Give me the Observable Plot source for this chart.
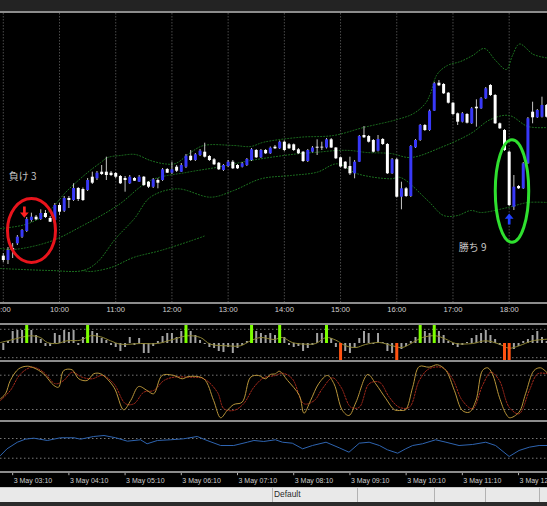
<!DOCTYPE html>
<html><head><meta charset="utf-8">
<script src="https://cdn.jsdelivr.net/npm/d3@7"></script>
<script src="https://cdn.jsdelivr.net/npm/@observablehq/plot@0.6"></script>
<style>
html,body{margin:0;padding:0;background:#000;}
#root{position:relative;width:547px;height:506px;background:#000;overflow:hidden;font-family:"Liberation Sans",sans-serif;}
</style></head><body><div id="root"></div>
<script>
// ---------- candles (5-minute bars, index 0 = 9:00) ----------
const open = [44.3,40,52,56.7,63.3,69,80,83.3,81,87, 82,80,95,89.3,102,100,112,111,110,123.3, 121.7,128.3,128.3,127.3,127,124,122,116.7,122,118.3, 123.3,118.3,113.3,120,120,131,127.3,133.3,128.3,133.3, 144.3,140,145,148.3,144,140.7,137.3,130,134,138.3, 135,133.3,135,140,150,142.7,150,146.7,153.3,151.7, 158.3,155.7,155.7,150.7,148.3,139,148.3,153.3,153.3,152.5, 160.7,152.5,142.7,138.3,134,126.7,138.3,165,164,160, 149.3,161,156,126.7,140.7,103.3,111.7,104,152.7,160, 175,170,189.3,217.3,216,207.3,197.3,186.7,178.3,186, 176.7,193.3,191.7,201.7,215,205,176.7,170,148.3,93.3, 114,111.7,136.7,188.3,182.7,183.3,195];
const high = [47,53,57,65,71,83,87.3,85,90.7,90, 84,97,97,104,104,116.7,113,112.5,122,128.3, 129,135,143.3,129,128,125,124,125,123,125, 124,119,122,121.7,132,132,138.3,135,137,146, 150,147,151,157.3,145,142,138,136,140,140, 136,138,142,152,151,151,151,153.5,155,159.5, 159.5,157,156.5,152,149,151,154,160.7,158.3,162, 162,153,143.5,139,143.3,140,165,174,165,161, 165,162,157,142,142,118.3,113,155,161,176, 176,190.5,218,220,217,208,198,187.5,188,187, 193,200.7,203,213,216,206,177.5,171,149.5,125, 115,138,183,198.3,191,203.3,196];
const low = [38,36,42,55,62,68,78.3,80,80,82, 78,79,85,88,92,99,99,99,109,116, 120,125,120,124,122,116,108.3,116,119,118, 114,112,112,111.7,119,127,126,128,128,132, 139,139,144,142.5,139,135,130,129,133,131, 131,132.5,134,139,142,142,146,146,151,151, 149,151,149,146,138,138,147.5,145,150,151.5, 152,141,132.5,131,125,121.7,138,162,157.5,147.5, 148.5,155,126,126,102.5,90.7,103,103,152,159, 169,169,189,214,206,196.5,185,175,177.5,176.5, 176,173.3,191,201,204,176,171,149,94,90, 111,111,136,176.7,182,182.5,182.5];
const close = [40,50,50,63.3,70,81,83.3,80.7,87,83, 78.3,95,88.3,102,100,112,101,100,120,117.3, 127.3,126,125,125,123.3,116.7,120,123.3,119.3,123.3, 115,113.3,120.7,117.3,130.7,127.3,130.7,129.3,135,144.3, 140,145.7,149.3,143.3,140,135.7,130.7,135,138.3,131.7, 131.7,136.7,141,150.7,142.7,150,146.7,152.3,151.7,158.3, 150,151.7,150,146.7,139,150,152.5,152.3,152.5,160.7, 152.5,141.7,133.5,131.7,126.7,138.3,164,162.7,158.3,148.3, 161,156,126.7,140.7,103.3,111.7,104,154,160,175, 170,189.3,216.7,214.7,206.7,197.3,186,178.3,186.7,177.3, 191.7,191.7,201.7,211.7,205,176.7,171.7,150,95,113.3, 111.7,136.7,181.7,182.7,190,195,183.3];

// ---------- Bollinger bands (read at sample bars) ----------
const upperIdx = [-0.6,4.7,9,13.7,18,20.8,22.3,25,28.2,31.4,34.7,36.8,40,42.8,49.2,52.8,55.6,63.5,70.5,76.9,84.1,87.6,90.1,91.2,92.6,94.8,97.6,100.2,102.7,105.1,107.4,108.7,110.2,113.2,116.2];
const upperVal = [72,76,86,110,128,138,143,145,146,140,136.5,137,148,155,155,154,158.3,163.3,165,173,181,187,197,207,226,235,239,245,252,240,231,245,256.5,246,242.5];
const middleIdx = [-0.6,2.2,10,17,24.4,31.4,39.4,45.8,52.8,59.9,63.5,67.1,71.2,74.1,77.6,82.7,87,93.4,99.8,104,108,112,116.2];
const middleVal = [52,51,59,75,95,120,128.3,133.3,140,145,147,148.3,150,150,148,147,143,153,167,181,185,174,173];
const lowerIdx = [-0.6,10,17,20,24,28,31.4,37.1,44.3,49.2,55,61.4,67,71.3,75.6,82.7,84.8,90.6,94,97,99.8,102,107.7,112,116.2];
const lowerVal = [32,30,30,38,62,82,103.3,111.7,103.3,110,121.7,125,128.3,136.7,126.7,121.7,123,100,85,85,90,88,93,98,98];
const outerIdx = [17,18.6,23,27.8,33.6,42.1,43.2];
const outerVal = [30,29,33,43,50,63,65];

// ---------- signal annotations ----------
const ringIdx = [6.02, 108.6], ringVal = [70, 109.5], ringRy = [32, 51.3], ringRatio = [0.75, 0.326], ringColor = ["#e8141c", "#2fe02f"];
const arrowIdx = [4.5, 108], arrowVal = [88.3, 81.5], arrowDir = [1, -1], arrowColor = ["#ff2020", "#2040ff"];
const noteIdx = [1.17, 97.25], noteVal = [123.3, 53], noteText = ["負け 3", "勝ち 9"];

// ---------- histogram sub-window ----------
const histVal = [-7,2,12,13,13,13,13,8,4,-3, -3,10,8,13,11,13,-2,6,12,12, 10,5,3,-2,-4,-8,-4,6,-2,5, -10,-10,-3,2,7,10,10,6,12,13, 12,8,3,-1,-4,-5,-8,-9,-4,-10, -5,-2,2,12,12,10,8,10,8,12, 6,-2,-4,-3,-8,-5,-2,10,10,12, 5,-4,-10,-8,-10,-5,5,12,10,-1, 10,1,-8,-10,-12,-6,-3,2,6,12, 12,10,13,12,8,2,-2,-4,-2,1, 5,8,10,13,8,4,-2,-8,-10,-6, -3,2,4,8,12,6,2];
const greenIdx = [5,18,39,53,59,69,89,92];
const orangeIdx = [72,84,107,108];
const sigIdx = [-0.6,1.5,3.7,5.8,7.9,9.4,11.5,13.6,16.5,18.6,20.8,22.9,25,29.3,32.9,36.4,39.3,42.1,44.2,47.8,50.6,52.8,54.9,57.8,59.6,61.7,64.6,66.7,68.9,71,73.1,75.3,77.3,80.3,83.1,85.2,87.4,89.5,92.3,94.5,96.6,100.2,103,105.9,108,110.1,113,116.2];
const sigVal = [1,3.3,6,7.7,6,1,0,2.7,3.3,7.7,6.7,2.7,-0.7,0,0,4.3,7.7,6,-0.7,-2.3,-2.3,2.7,6,4,6,1,-0.7,0,6,3.3,-2.3,-4,-1,1,-2.3,-4,1,6,7.7,4.3,0,0,2.7,-0.7,-4.7,-2.3,2.7,4.3];
const histLevels = [14.2, -14.2];

// ---------- stochastic sub-window ----------
const kIdx = [-0.6,0.47,1.5,3.3,5.1,6.5,8.6,10.8,11.8,12.9,14.7,16.1,17.9,19.3,20.8,23.6,25.7,27.2,28.9,30.7,32.1,33.9,36.4,38.2,39.6,42.8,44.9,46.4,47.8,49.2,51,52.8,54.5,56,57,58.1,58.9,60.7,63.2,64.2,65.6,67.4,69.2,70.6,72.4,73.8,75.3,77.8,79.5,81.7,83.5,84.9,85.9,87.4,88.8,90.9,92.7,94.5,96.3,98,99.5,100.9,102.3,103.4,104.4,105.9,107.3,108.1,110.1,111.5,113.3,114.7,116.2];
const kVal = [38.7,47.5,70.7,91.2,95.7,92.9,82.4,62,59,88.2,89.4,73.7,70.7,82.4,82.4,59,19.5,35.7,60.2,53.2,47.5,79.5,79.5,73.7,77.7,73.7,35.7,5.5,18.3,28.7,32.8,76.5,79.5,73.7,81.2,82.4,87,70.7,44.5,13.5,35.7,66,79.5,65,18.3,9.5,32.8,81.2,65,38.7,19.5,18.3,19.5,59,95.2,94,98.2,88.2,53.2,18.3,15.3,35.7,88.2,92.9,82.4,41.5,12.5,5.5,15.3,47.5,88.2,92.9,83.5];
const dIdx = [-0.6,1.5,3.7,6.2,8.6,11.1,12.9,14.7,16.8,19,21.1,23.6,26.1,27.9,30,32.1,34.3,36.4,39.3,42.8,45.7,47.1,49.2,51.3,53.5,55.6,58.1,59.6,61.7,64.2,66.4,68.1,70.3,72.1,74.2,76,78.1,80.3,82.4,84.5,86.7,88.8,90.9,93.8,95.9,98,100.2,102.3,104.1,105.9,108,110.1,112.3,114.1,116.2];
const dVal = [35.7,53.2,82.4,94,85.2,65,70.7,85.2,76.5,73.7,79.5,65,30,30,50.3,53.2,70.7,76.5,76.5,73.7,50.3,21.2,18.3,30,59,75.4,79.5,83.5,73.7,30,35.7,56.2,75.4,59,24,24,65,67.7,41.5,24,24,70.7,91.2,92.9,73.7,35.7,21.2,62,85.2,70.7,24,12.5,53.2,82.4,82.4];
const stochLevels = [80, 20];

// ---------- blue oscillator sub-window ----------
const blueIdx = [-0.6,0.8,3,4.7,6.5,9.4,12.2,15.1,16.5,19.3,21.5,24,26.5,29.3,30.7,32.9,35.7,38.5,41.4,43.5,46.4,49.2,52.1,53.5,55.6,58.1,59.6,61.7,63.9,66,68.9,71.7,73.8,76,78.1,80.3,82,84.2,85.9,87.4,89.5,92.3,94.5,97.3,100.2,103,105.1,108,110.1,112.3,114.4,116.2];
const blueVal = [35.5,49.1,62.5,68.6,70.7,66,71.5,71.5,68.6,74.1,76.1,71.5,64.6,67.4,59.3,66,67.4,69.4,74.1,66,55.8,55.8,62.5,66,64,67.4,62.5,60.5,49.1,55.8,62.5,51.2,42.2,60.5,62.5,55.8,47.1,40.2,49.1,55.8,59.3,67.4,62.5,55.8,57.9,62.5,55.8,33.5,45.7,52.4,55.8,55.8];
const blueLevels = [70, 30];

// ---------- time axes ----------
const topTickIdx = [0,12,24,36,48,60,72,84,96,108];
const topTickLabels = ["9:00","10:00","11:00","12:00","13:00","14:00","15:00","16:00","17:00","18:00"];
const bottomTickIdx = [2,14,26,38,50,62,74,86,98,110];
const bottomTickLabels = ["3 May 03:10","3 May 04:10","3 May 05:10","3 May 06:10","3 May 07:10","3 May 08:10","3 May 09:10","3 May 10:10","3 May 11:10","3 May 12:10"];

// ================= drawing =================
const root = document.getElementById("root");
const W = 547, XD = [-0.5978, 116.18];
const zip = (a, b) => a.map((x, k) => ({i: x, v: b[k]}));
const candles = open.map((o, i) => ({i, o, h: high[i], l: low[i], c: close[i]}));

function place(top, height, yDomain, marks, yRange) {
  const y = {domain: yDomain, axis: null};
  if (yRange) y.range = yRange;
  const svg = Plot.plot({width: W, height, marginTop: 0, marginRight: 0, marginBottom: 0, marginLeft: 0,
    x: {domain: XD, axis: null}, y, style: {background: "transparent"}, marks});
  svg.style.position = "absolute"; svg.style.left = "0px"; svg.style.top = top + "px";
  root.appendChild(svg);
}
function div(style, text) {
  const d = document.createElement("div");
  d.style.cssText = "position:absolute;" + style;
  if (text) d.textContent = text;
  root.appendChild(d);
}
function ellipseSymbol(ratio) {
  return {draw(ctx, size) {
    const ry = Math.sqrt(size / Math.PI), rx = ry * ratio, k = 0.5523;
    ctx.moveTo(rx, 0);
    ctx.bezierCurveTo(rx, ry * k, rx * k, ry, 0, ry);
    ctx.bezierCurveTo(-rx * k, ry, -rx, ry * k, -rx, 0);
    ctx.bezierCurveTo(-rx, -ry * k, -rx * k, -ry, 0, -ry);
    ctx.bezierCurveTo(rx * k, -ry, rx, -ry * k, rx, 0);
    ctx.closePath();
  }};
}
function arrowSymbol(dir) {
  return {draw(ctx, size) {
    const r = Math.sqrt(size / Math.PI), s = r * 0.24, hw = r * 0.78, hh = r * 0.95;
    const y0 = -r * dir, yb = (r - hh) * dir, yt = r * dir;
    ctx.moveTo(-s, y0); ctx.lineTo(s, y0); ctx.lineTo(s, yb); ctx.lineTo(hw, yb);
    ctx.lineTo(0, yt); ctx.lineTo(-hw, yb); ctx.lineTo(-s, yb); ctx.closePath();
  }};
}

// top window chrome
div("left:0;top:0;width:547px;height:10.5px;background:#232323;");

// ---- main price window ----
const bandStyle = {x: "i", y: "v", stroke: "#1e7a22", strokeWidth: 1, strokeDasharray: "1,2", curve: "catmull-rom"};
const mainMarks = [
  Plot.ruleX(topTickIdx, {x: d => d, stroke: "#4a4a4a", strokeDasharray: "1.5,1.5"}),
  Plot.line(zip(upperIdx, upperVal), bandStyle),
  Plot.line(zip(middleIdx, middleVal), bandStyle),
  Plot.line(zip(lowerIdx, lowerVal), bandStyle),
  Plot.line(zip(outerIdx, outerVal), bandStyle),
  Plot.ruleX(candles, {x: "i", y1: "l", y2: "h", stroke: "#c4c4c4", strokeWidth: 1}),
  Plot.ruleX(candles.filter(d => d.c < d.o), {x: "i", y1: "o", y2: "c", stroke: "#ffffff", strokeWidth: 3}),
  Plot.ruleX(candles.filter(d => d.c >= d.o), {x: "i", y1: "o", y2: "c", stroke: "#3838f8", strokeWidth: 3}),
];
ringIdx.forEach((x, k) => mainMarks.push(Plot.dot([{i: x, v: ringVal[k]}], {x: "i", y: "v", r: ringRy[k], symbol: ellipseSymbol(ringRatio[k]), stroke: ringColor[k], strokeWidth: 3, fill: "none"})));
arrowIdx.forEach((x, k) => mainMarks.push(Plot.dot([{i: x, v: arrowVal[k]}], {x: "i", y: "v", r: 5.6, symbol: arrowSymbol(arrowDir[k]), fill: arrowColor[k], stroke: "none"})));
mainMarks.push(Plot.text(noteIdx.map((x, k) => ({i: x, v: noteVal[k], t: noteText[k]})), {x: "i", y: "v", text: "t", textAnchor: "start", fill: "#c4c4c4", fontSize: 10, fontFamily: "Noto Sans CJK JP"}));
place(13, 289, [-2, 287], mainMarks);

// ---- top time labels strip ----
place(302, 20, [0, 20], [
  Plot.text(topTickIdx.map((x, k) => ({i: x, t: topTickLabels[k]})), {x: "i", y: () => 7, text: "t", fill: "#d2d2d2", fontSize: 7.6, fontFamily: "Liberation Sans"})
], [0, 20]);

// ---- histogram window ----
place(324.7, 35.5, [-17.5, 18], [
  Plot.ruleY(histLevels, {stroke: "#767676", strokeDasharray: "1.5,2.5"}),
  Plot.ruleX(histVal.map((v, i) => ({i, v})).filter(d => !greenIdx.includes(d.i) && !orangeIdx.includes(d.i)), {x: "i", y1: () => 0, y2: "v", stroke: "#a4a4a4", strokeWidth: 2}),
  Plot.line(zip(sigIdx, sigVal), {x: "i", y: "v", stroke: "#8f8636", strokeWidth: 1, curve: "catmull-rom"}),
  Plot.ruleX(greenIdx, {x: d => d, y1: () => 0, y2: () => 18, stroke: "#7cff00", strokeWidth: 3}),
  Plot.ruleX(orangeIdx, {x: d => d, y1: () => 0, y2: () => -17.5, stroke: "#ff5312", strokeWidth: 3}),
]);

// ---- stochastic window ----
place(362, 57.5, [1.6, 102.2], [
  Plot.ruleY(stochLevels, {stroke: "#767676", strokeDasharray: "1.5,2.5"}),
  Plot.line(zip(dIdx, dVal), {x: "i", y: "v", stroke: "#a82a1c", strokeWidth: 1, strokeDasharray: "1.5,1.5", curve: "catmull-rom"}),
  Plot.line(zip(kIdx, kVal), {x: "i", y: "v", stroke: "#b8953a", strokeWidth: 1, curve: "catmull-rom"}),
]);

// ---- blue oscillator window ----
place(422, 49, [3.05, 102.5], [
  Plot.ruleY(blueLevels, {stroke: "#767676", strokeDasharray: "1.5,2.5"}),
  Plot.line(zip(blueIdx, blueVal), {x: "i", y: "v", stroke: "#2e64b0", strokeWidth: 1}),
]);

// ---- bottom time axis ----
place(473, 14, [0, 14], [
  Plot.ruleX(bottomTickIdx, {x: d => d, y1: () => 0, y2: () => 2.2, stroke: "#b0b0b0"}),
  Plot.text(bottomTickIdx.map((x, k) => ({i: x, t: bottomTickLabels[k]})), {x: "i", y: () => 7, text: "t", textAnchor: "start", dx: 1, fill: "#cfcfcf", fontSize: 7, fontFamily: "Liberation Sans"})
], [0, 14]);

// panel separators
[10.5, 301.7, 322.7, 360.2, 419.6, 471.1].forEach(t => div("left:0;width:547px;height:2px;background:#8c8c8c;top:" + t + "px;"));

// status bar
div("left:0;top:487px;width:547px;height:15px;background:#e9e9e9;border-top:1px solid #c6c6c6;box-sizing:border-box;");
[271.5, 357, 433.5, 485, 538.5].forEach(x => div("top:488px;height:14px;width:1px;background:#b2b2b2;left:" + x + "px;"));
div("left:274px;top:489px;font:8.4px 'Liberation Sans',sans-serif;color:#2a2a2a;line-height:11px;", "Default");
div("left:0;top:502px;width:547px;height:4px;background:#2b2b2b;");
</script></body></html>
